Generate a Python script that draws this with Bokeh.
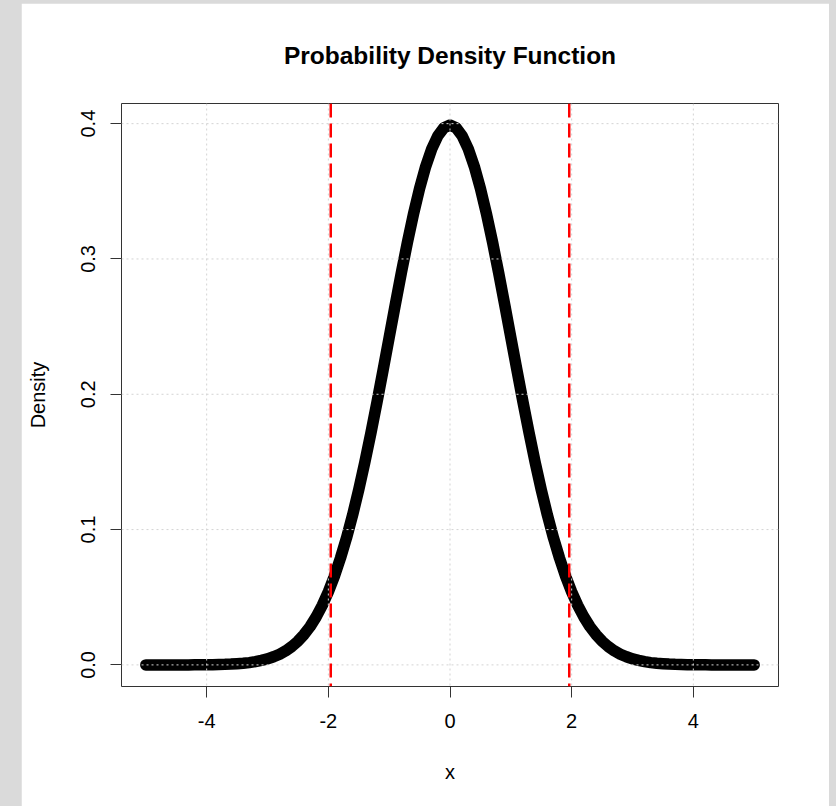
from bokeh.plotting import figure
from bokeh.models import Range1d, Span, FixedTicker
from bokeh.layouts import row
from bokeh.embed import file_html
from bokeh.resources import INLINE

# ---- data (normal density curve) ----
x_vals = [-5.0, -4.9, -4.8, -4.7, -4.6, -4.5, -4.4, -4.3, -4.2, -4.1,
          -4.0, -3.9, -3.8, -3.7, -3.6, -3.5, -3.4, -3.3, -3.2, -3.1,
          -3.0, -2.9, -2.8, -2.7, -2.6, -2.5, -2.4, -2.3, -2.2, -2.1,
          -2.0, -1.9, -1.8, -1.7, -1.6, -1.5, -1.4, -1.3, -1.2, -1.1,
          -1.0, -0.9, -0.8, -0.7, -0.6, -0.5, -0.4, -0.3, -0.2, -0.1,
          0.0, 0.1, 0.2, 0.3, 0.4, 0.5, 0.6, 0.7, 0.8, 0.9,
          1.0, 1.1, 1.2, 1.3, 1.4, 1.5, 1.6, 1.7, 1.8, 1.9,
          2.0, 2.1, 2.2, 2.3, 2.4, 2.5, 2.6, 2.7, 2.8, 2.9,
          3.0, 3.1, 3.2, 3.3, 3.4, 3.5, 3.6, 3.7, 3.8, 3.9,
          4.0, 4.1, 4.2, 4.3, 4.4, 4.5, 4.6, 4.7, 4.8, 4.9, 5.0]
density = [0.0000, 0.0000, 0.0000, 0.0000, 0.0000, 0.0000, 0.0000, 0.0000, 0.0001, 0.0001,
           0.0001, 0.0002, 0.0003, 0.0004, 0.0006, 0.0009, 0.0012, 0.0017, 0.0024, 0.0033,
           0.0044, 0.0060, 0.0079, 0.0104, 0.0136, 0.0175, 0.0224, 0.0283, 0.0355, 0.0440,
           0.0540, 0.0656, 0.0790, 0.0940, 0.1109, 0.1295, 0.1497, 0.1714, 0.1942, 0.2179,
           0.2420, 0.2661, 0.2897, 0.3123, 0.3332, 0.3521, 0.3683, 0.3814, 0.3910, 0.3970,
           0.3989, 0.3970, 0.3910, 0.3814, 0.3683, 0.3521, 0.3332, 0.3123, 0.2897, 0.2661,
           0.2420, 0.2179, 0.1942, 0.1714, 0.1497, 0.1295, 0.1109, 0.0940, 0.0790, 0.0656,
           0.0540, 0.0440, 0.0355, 0.0283, 0.0224, 0.0175, 0.0136, 0.0104, 0.0079, 0.0060,
           0.0044, 0.0033, 0.0024, 0.0017, 0.0012, 0.0009, 0.0006, 0.0004, 0.0003, 0.0002,
           0.0001, 0.0001, 0.0001, 0.0000, 0.0000, 0.0000, 0.0000, 0.0000, 0.0000, 0.0000, 0.0000]
x_ticks = [-4, -2, 0, 2, 4]
x_tick_labels = {-4: "-4", -2: "-2", 0: "0", 2: "2", 4: "4"}
y_ticks = [0.0, 0.1, 0.2, 0.3, 0.4]
y_tick_labels = {0.0: "0.0", 0.1: "0.1", 0.2: "0.2", 0.3: "0.3", 0.4: "0.4"}
crit_lines = [-1.96, 1.96]

FONT = "Liberation Sans"

p = figure(width=808, height=803,
           x_range=Range1d(-5.4, 5.4), y_range=Range1d(-0.01596, 0.41489),
           output_backend="svg", toolbar_location=None,
           min_border_left=100, min_border_right=51,
           min_border_top=100, min_border_bottom=120,
           background_fill_color="white", border_fill_color="white")
p.margin = (3, 7, 0, 21)

p.title.text = "Probability Density Function"
p.title.align = "center"
p.title.text_font = FONT
p.title.text_font_size = "24.5px"
p.title.text_font_style = "bold"
p.title.text_color = "black"
p.title.standoff = 70

p.outline_line_color = "#333333"
p.outline_line_width = 1
p.grid.visible = False

# curve (dense points in the original -> thick black trace)
p.line(x_vals, density, line_color="black", line_width=11.5,
       line_cap="round", line_join="round")

# grid on top (as in the original)
for v in x_ticks:
    p.add_layout(Span(location=v, dimension="height", line_color="#d3d3d3",
                      line_width=1, line_dash="2 3"))
for v in y_ticks:
    p.add_layout(Span(location=v, dimension="width", line_color="#d3d3d3",
                      line_width=1, line_dash="2 3"))
# critical value lines
for v in crit_lines:
    p.add_layout(Span(location=v, dimension="height", line_color="#ff0000",
                      line_width=2.5, line_dash="14 6"))

for ax in (p.xaxis[0], p.yaxis[0]):
    ax.axis_line_color = None
    ax.major_tick_in = 0
    ax.major_tick_out = 11
    ax.major_tick_line_color = "#333333"
    ax.minor_tick_line_color = None
    ax.major_label_text_font = FONT
    ax.major_label_text_font_size = "20px"
    ax.major_label_text_color = "black"
    ax.axis_label_text_font = FONT
    ax.axis_label_text_font_size = "20px"
    ax.axis_label_text_font_style = "normal"
    ax.axis_label_text_color = "black"

p.xaxis[0].ticker = FixedTicker(ticks=x_ticks)
p.xaxis[0].major_label_overrides = x_tick_labels
p.xaxis[0].axis_label = "x"
p.xaxis[0].major_label_standoff = 16
p.xaxis[0].axis_label_standoff = 30

p.yaxis[0].ticker = FixedTicker(ticks=y_ticks)
p.yaxis[0].major_label_overrides = y_tick_labels
p.yaxis[0].major_label_orientation = "vertical"
p.yaxis[0].axis_label = "Density"
p.yaxis[0].major_label_standoff = 15
p.yaxis[0].axis_label_standoff = 30

layout = row(p, styles={"background-color": "#dadada"})

open("out.html", "w").write(file_html(layout, INLINE))
